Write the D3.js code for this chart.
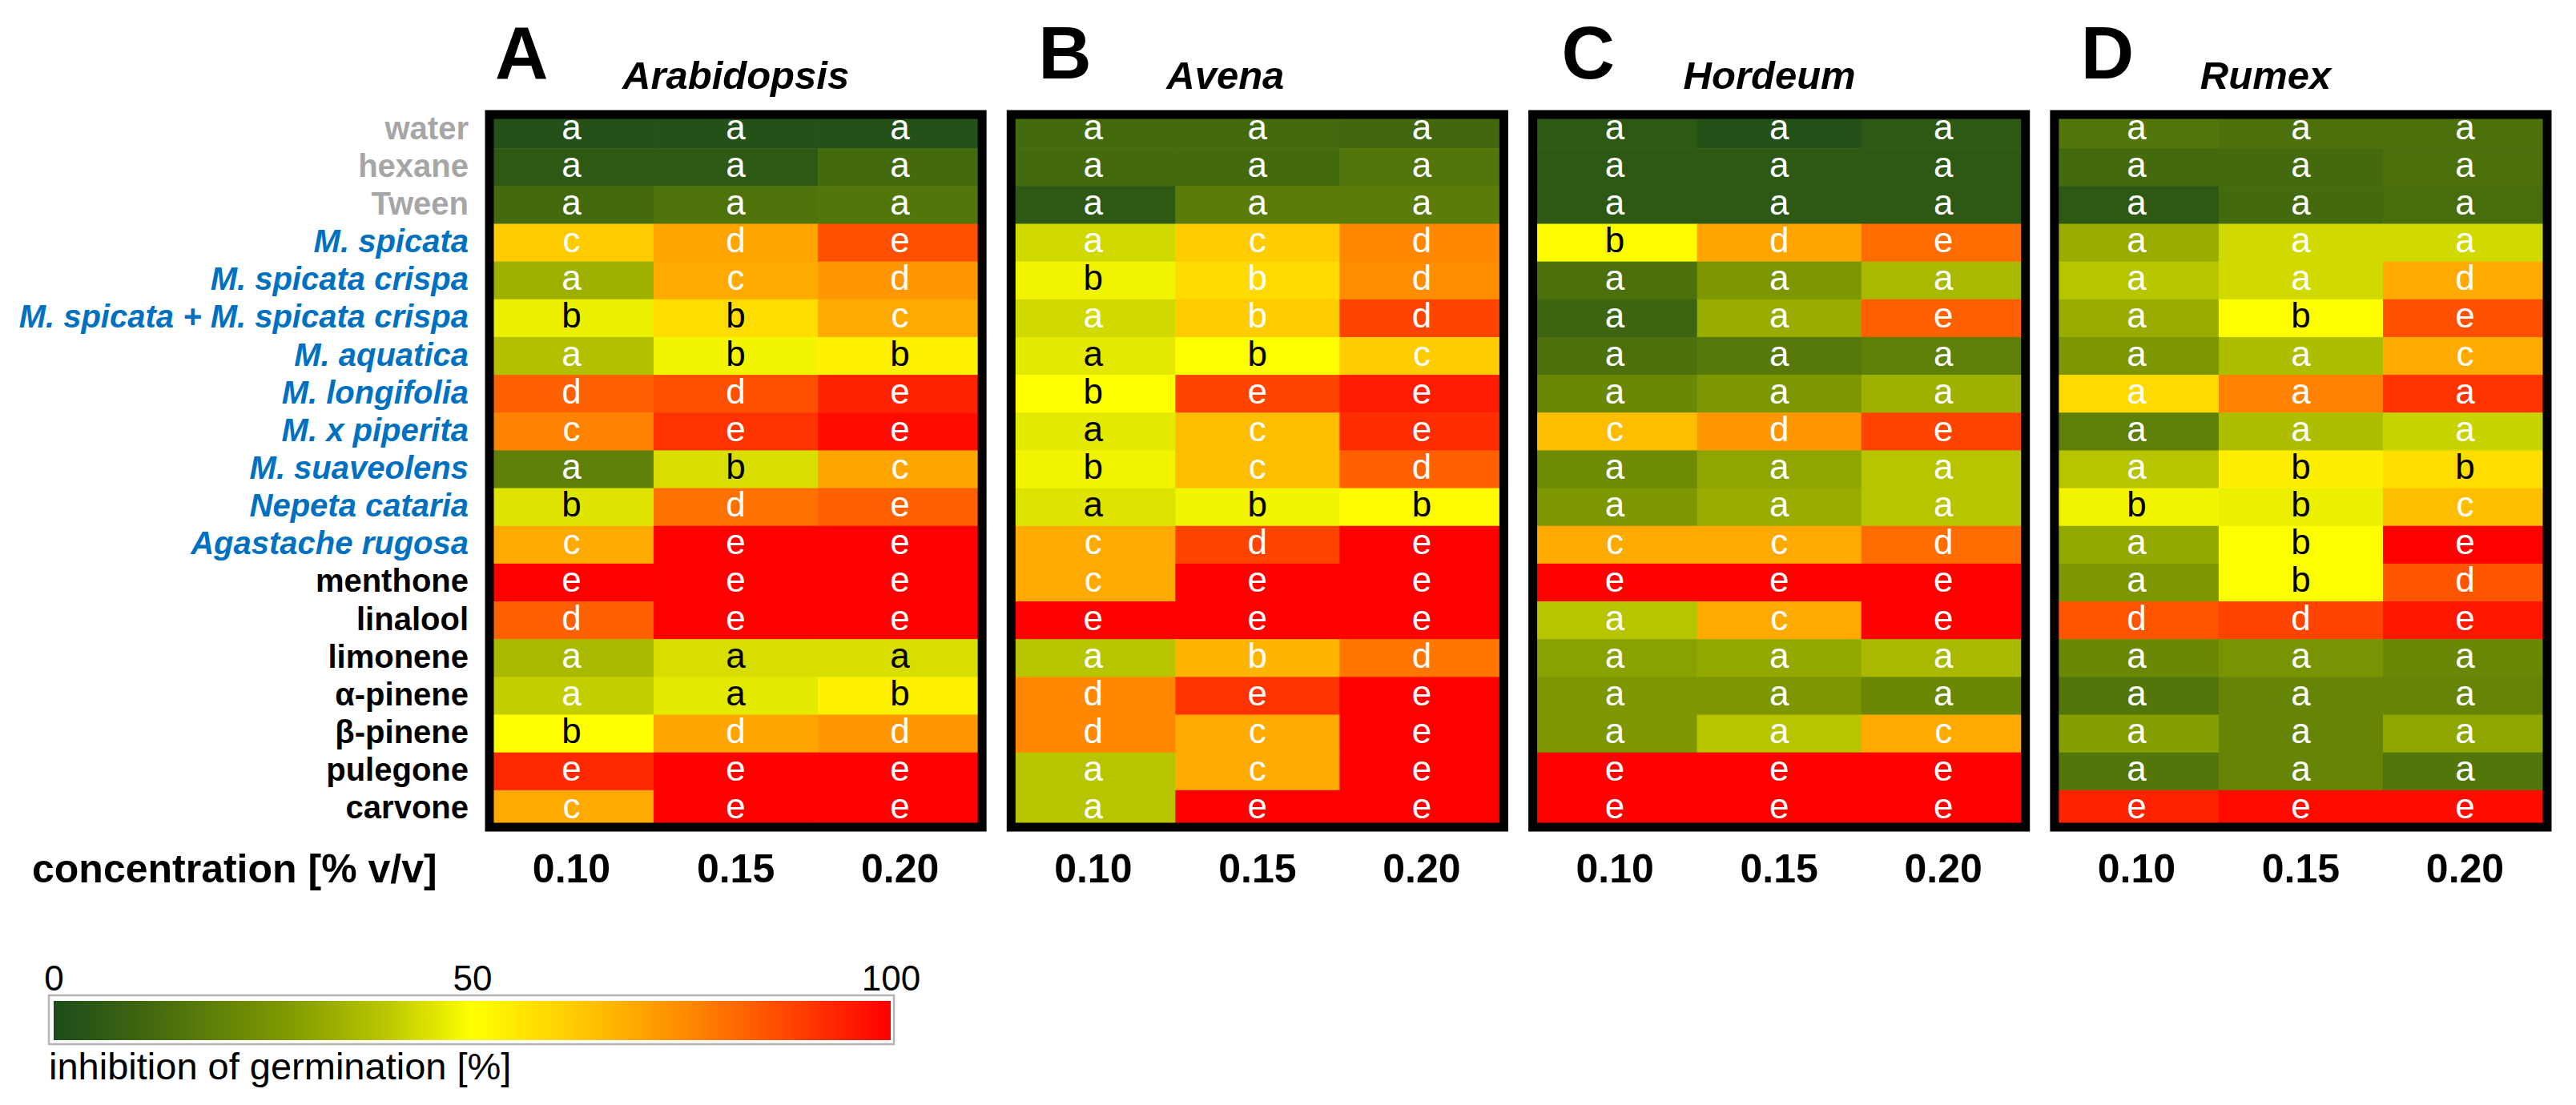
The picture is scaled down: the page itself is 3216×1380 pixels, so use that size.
<!DOCTYPE html>
<html>
<head>
<meta charset="utf-8">
<script src="https://cdn.jsdelivr.net/npm/d3@7"></script>
<style>
  body { margin: 0; background: #fff; }
  svg { display: block; font-family: "Liberation Sans", Arial, sans-serif; }
</style>
</head>
<body>
<svg id="chart" width="3216" height="1380"></svg>
<script>
// row labels, split by kind (controls grey, essential oils blue italic, pure compounds black)
const controls = ["water", "hexane", "Tween"];
const essentialOils = ["M. spicata", "M. spicata crispa", "M. spicata + M. spicata crispa", "M. aquatica",
  "M. longifolia", "M. x piperita", "M. suaveolens", "Nepeta cataria", "Agastache rugosa"];
const pureCompounds = ["menthone", "linalool", "limonene", "α-pinene", "β-pinene", "pulegone", "carvone"];
const treatments = [...controls, ...essentialOils, ...pureCompounds];

const concentrations = ["0.10", "0.15", "0.20"];
const panelLetters = ["A", "B", "C", "D"];
const species = ["Arabidopsis", "Avena", "Hordeum", "Rumex"];
const legendTicks = [0, 50, 100];

// inhibition of germination [%], one row per treatment, columns = concentrations
const arabidopsisInhibition = [
  [2, 2, 2], [5, 5, 12], [12, 15, 16], [62, 70, 86], [34, 69, 73], [47, 58, 69], [38, 48, 53],
  [83, 86, 94], [77, 91, 98], [19, 44, 70], [45, 80, 83], [69, 100, 100], [100, 100, 100],
  [83, 100, 100], [36, 44, 44], [41, 46, 53], [50, 70, 73], [93, 100, 100], [69, 100, 100]
];
const avenaInhibition = [
  [12, 12, 11], [12, 12, 16], [5, 18, 18], [43, 62, 76], [48, 59, 75], [43, 62, 88], [46, 50, 62],
  [50, 88, 95], [46, 65, 92], [48, 65, 83], [45, 48, 51], [69, 88, 100], [69, 100, 100],
  [100, 100, 100], [39, 67, 79], [76, 91, 100], [76, 69, 100], [39, 69, 100], [39, 100, 100]
];
const hordeumInhibition = [
  [5, 2, 5], [5, 5, 5], [5, 5, 5], [51, 70, 81], [14, 27, 36], [10, 33, 83], [14, 17, 19],
  [22, 27, 34], [65, 73, 88], [23, 31, 39], [27, 33, 39], [69, 69, 81], [100, 100, 100],
  [39, 69, 100], [30, 32, 36], [27, 27, 22], [27, 39, 69], [100, 100, 100], [100, 100, 100]
];
const rumexInhibition = [
  [16, 14, 14], [12, 12, 14], [5, 12, 13], [33, 43, 43], [39, 43, 69], [33, 50, 86], [27, 37, 69],
  [59, 77, 91], [19, 37, 42], [39, 54, 58], [48, 47, 65], [32, 50, 100], [27, 50, 85],
  [85, 88, 96], [22, 26, 22], [16, 21, 21], [29, 21, 31], [16, 21, 16], [94, 98, 98]
];

// significance letters per row
const arabidopsisGroups = ["aaa", "aaa", "aaa", "cde", "acd", "bbc", "abb", "dde", "cee", "abc",
  "bde", "cee", "eee", "dee", "aaa", "aab", "bdd", "eee", "cee"];
const avenaGroups = ["aaa", "aaa", "aaa", "acd", "bbd", "abd", "abc", "bee", "ace", "bcd",
  "abb", "cde", "cee", "eee", "abd", "dee", "dce", "ace", "aee"];
const hordeumGroups = ["aaa", "aaa", "aaa", "bde", "aaa", "aae", "aaa", "aaa", "cde", "aaa",
  "aaa", "ccd", "eee", "ace", "aaa", "aaa", "aac", "eee", "eee"];
const rumexGroups = ["aaa", "aaa", "aaa", "aaa", "aad", "abe", "aac", "aaa", "aaa", "abb",
  "bbc", "abe", "abd", "dde", "aaa", "aaa", "aaa", "aaa", "eee"];

const panels = species.map((name, i) => ({
  name: name,
  letter: panelLetters[i],
  values: [arabidopsisInhibition, avenaInhibition, hordeumInhibition, rumexInhibition][i],
  groups: [arabidopsisGroups, avenaGroups, hordeumGroups, rumexGroups][i]
}));

const svg = d3.select("#chart");

// scales
const panelX = d3.scaleBand().domain(species).range([611, 3180]).paddingInner(0.0555);
const colX = d3.scaleBand().domain(concentrations).range([0, panelX.bandwidth()]);
const rowY = d3.scaleBand().domain(treatments).range([138, 1034]);

const color = d3.scaleLinear()
  .domain([0, 12, 28, 40, 50, 62, 76, 88, 100])
  .range(["#1c4c1a", "#446a0e", "#809a00", "#bcc800", "#ffff00", "#ffcc00", "#ff8800", "#ff4400", "#ff0000"])
  .clamp(true);

// layout tweaks for headers
const letterOffset = [7, 34, 36, 33];
const titleOffset = [166, 194, 188, 182];

panels.forEach((p, i) => {
  const x0 = panelX(p.name);
  const g = svg.append("g").attr("transform", `translate(${x0},0)`);

  const cells = [];
  treatments.forEach((t, r) => {
    concentrations.forEach((c, k) => {
      cells.push({ t: t, c: c, v: p.values[r][k], letter: p.groups[r][k] });
    });
  });

  g.selectAll(".cell")
    .data(cells)
    .enter().append("rect")
    .attr("class", "cell")
    .attr("x", d => colX(d.c))
    .attr("y", d => rowY(d.t))
    .attr("width", colX.bandwidth() + 0.6)
    .attr("height", rowY.bandwidth() + 0.6)
    .attr("fill", d => color(d.v));

  g.selectAll(".cell-label")
    .data(cells)
    .enter().append("text")
    .attr("class", "cell-label")
    .attr("x", d => colX(d.c) + colX.bandwidth() / 2)
    .attr("y", d => rowY(d.t) + rowY.bandwidth() / 2 + 12)
    .attr("text-anchor", "middle")
    .attr("font-size", 44)
    .attr("fill", d => (d.v >= 44 && d.v <= 58) ? "#000" : "#fff") // dark letters on the yellow cells
    .text(d => d.letter);

  // thick frame
  g.append("rect")
    .attr("x", 0)
    .attr("y", 143)
    .attr("width", panelX.bandwidth())
    .attr("height", 890)
    .attr("fill", "none")
    .attr("stroke", "#000")
    .attr("stroke-width", 11);

  // panel letter + species
  svg.append("text")
    .attr("x", x0 + letterOffset[i])
    .attr("y", 98)
    .attr("font-size", 92)
    .attr("font-weight", "bold")
    .text(p.letter);

  svg.append("text")
    .attr("x", x0 + titleOffset[i])
    .attr("y", 111)
    .attr("font-size", 49)
    .attr("font-weight", "bold")
    .attr("font-style", "italic")
    .text(p.name);

  // concentration ticks
  const ax = svg.append("g")
    .attr("transform", `translate(${x0},1102)`)
    .call(d3.axisBottom(colX).tickSize(0));
  ax.select(".domain").remove();
  ax.selectAll("text")
    .attr("y", 0)
    .attr("dy", 0)
    .attr("fill", "#000")
    .attr("font-size", 50)
    .attr("font-weight", "bold")
    .attr("font-family", null);
});

// row labels
svg.selectAll(".row-label")
  .data(treatments)
  .enter().append("text")
  .attr("class", "row-label")
  .attr("x", 585)
  .attr("y", d => rowY(d) + rowY.bandwidth() / 2 + 12)
  .attr("text-anchor", "end")
  .attr("font-size", 40)
  .attr("font-weight", "bold")
  .attr("font-style", d => essentialOils.includes(d) ? "italic" : "normal")
  .attr("fill", d => controls.includes(d) ? "#a6a6a6" : essentialOils.includes(d) ? "#0070c0" : "#000")
  .text(d => d);

svg.append("text")
  .attr("x", 40)
  .attr("y", 1102)
  .attr("font-size", 50)
  .attr("font-weight", "bold")
  .text("concentration [% v/v]");

// colour legend
const legendX = d3.scaleLinear().domain([0, 100]).range([67, 1112]);
const grad = svg.append("defs").append("linearGradient")
  .attr("id", "inhib")
  .attr("x1", "0%").attr("x2", "100%").attr("y1", "0%").attr("y2", "0%");
grad.selectAll("stop")
  .data(d3.range(0, 101, 2))
  .enter().append("stop")
  .attr("offset", d => d + "%")
  .attr("stop-color", d => color(d));

svg.append("rect")
  .attr("x", 61).attr("y", 1243)
  .attr("width", 1055).attr("height", 61)
  .attr("fill", "#fff")
  .attr("stroke", "#b4b4b4")
  .attr("stroke-width", 2.5);

svg.append("rect")
  .attr("x", legendX(0))
  .attr("y", 1250)
  .attr("width", legendX(100) - legendX(0))
  .attr("height", 49)
  .attr("fill", "url(#inhib)");

const lax = svg.append("g")
  .attr("transform", "translate(0,1237)")
  .call(d3.axisTop(legendX).tickValues(legendTicks).tickSize(0).tickFormat(d3.format("d")));
lax.select(".domain").remove();
lax.selectAll("text")
  .attr("y", 0)
  .attr("dy", 0)
  .attr("fill", "#000")
  .attr("font-size", 44)
  .attr("font-family", null);

svg.append("text")
  .attr("x", 61)
  .attr("y", 1348)
  .attr("font-size", 47)
  .text("inhibition of germination [%]");
</script>
</body>
</html>
